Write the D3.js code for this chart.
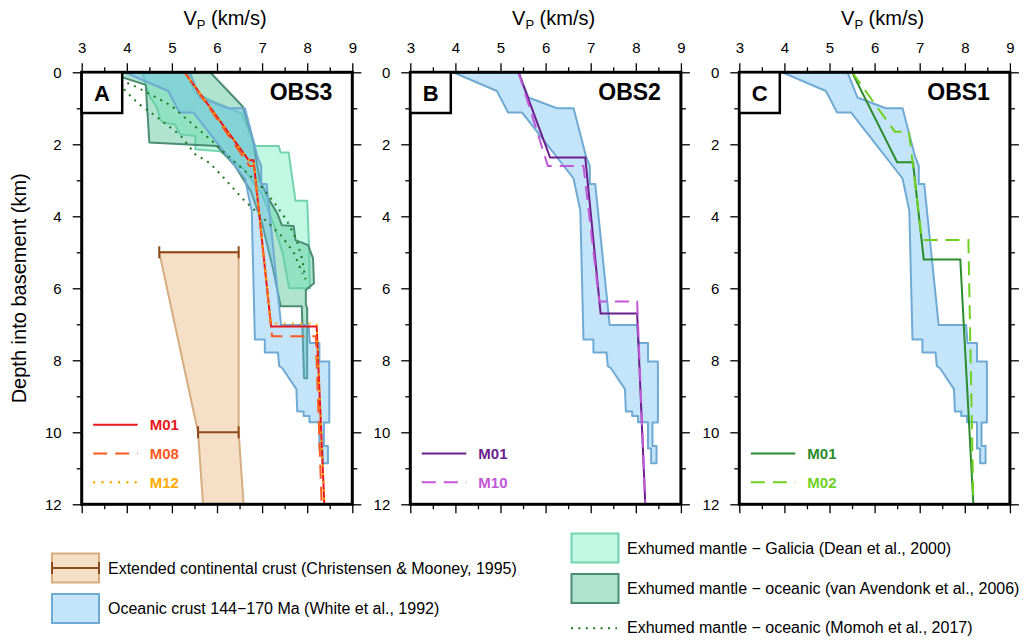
<!DOCTYPE html>
<meta charset="utf-8">
<style>
body { margin: 0; background: #fff; }
svg text { font-family: "Liberation Sans", Arial, sans-serif; fill: #000; }
.frame { fill: none; stroke: #000; stroke-width: 3px; }
.axis path { display: none; }
.axis line { stroke: #000; stroke-width: 1.3px; }
.band { stroke-width: 2px; stroke-linejoin: round; }
.model { fill: none; stroke-width: 2px; }
</style>
<body>
<script src="https://d3js.org/d3.v7.min.js"></script>
<script>
// axis ticks
var vTicks = [3, 4, 5, 6, 7, 8, 9];
var vMinor = [3.5, 4.5, 5.5, 6.5, 7.5, 8.5];
var depthTicks = [0, 2, 4, 6, 8, 10, 12];
var depthMinor = [1, 3, 5, 7, 9, 11];

// reference bands, [Vp km/s, depth km]
var oceanicCrust = [[3.95,0],[5.40,0],[5.62,0.70],[6.25,1.0],[6.62,1.0],[6.90,2.35],[6.98,2.6],[6.98,3.1],[7.10,3.1],
  [7.42,7.02],[8.03,7.02],[8.06,7.52],[8.27,7.52],[8.27,8.03],[8.49,8.03],[8.49,9.73],[8.37,9.73],[8.37,10.38],
  [8.46,10.38],[8.46,10.86],[8.34,10.86],[8.34,10.45],[8.27,10.45],[8.27,9.72],[8.05,9.72],[8.05,9.55],[7.92,9.55],
  [7.92,9.42],[7.78,9.42],[7.76,8.8],[7.45,8.22],[7.38,8.16],[7.35,7.78],[7.06,7.78],[7.06,7.42],[6.84,7.42],
  [6.77,3.85],[6.62,2.95],[5.48,1.12],[5.17,1.12],[4.92,0.52]];
var galicia = [[4.35,0],[5.35,0],[5.5,0.55],[5.9,0.8],[6.55,1.15],[6.85,2.05],[7.37,2.05],[7.41,2.23],[7.59,2.23],
  [7.74,3.57],[8.0,3.57],[8.04,4.8],[8.06,6.0],[7.6,6.0],[7.45,5.0],[7.25,4.2],[7.0,3.4],[6.6,2.7],[6.07,2.19],
  [5.52,2.14],[5.52,1.77],[5.18,1.72],[5.07,1.45],[4.81,1.40],[4.74,1.31],[4.67,0.98],[4.52,0.70],[4.41,0.33]];
var vanAvendonk = [[3.56,0],[5.85,0],[6.57,0.95],[6.8,1.9],[6.95,3.0],[7.15,3.53],[7.33,3.9],[7.44,4.25],[7.70,4.27],
  [7.74,4.66],[8.02,4.8],[8.13,5.17],[8.15,5.86],[7.97,6.05],[7.97,6.45],[8.0,6.56],[8.0,8.5],[7.93,8.5],[7.88,6.5],
  [7.41,6.5],[7.25,5.5],[7.0,4.2],[6.75,3.3],[6.4,2.6],[6.0,2.05],[4.50,1.95],[4.42,0.35]];
var momohUpper = [[3.55,0.08],[3.8,0.18],[4.2,0.4],[4.6,0.66],[5.0,0.94],[5.5,1.49],[5.85,1.86],[6.33,2.42],[6.7,2.83],
  [7.0,3.2],[7.3,3.67],[7.55,4.12],[7.76,4.64],[7.89,5.19],[7.96,5.75]];
var momohLower = [[3.55,0.1],[3.78,0.26],[3.96,0.5],[4.1,0.68],[4.28,0.89],[4.63,1.21],[5.18,1.74],[5.52,2.28],[5.85,2.53],
  [6.2,3.0],[6.61,3.57],[7.11,4.15],[7.43,4.55],[7.7,5.0],[7.9,5.6]];
var contCrust = [[4.72,5],[6.48,5],[6.48,10],[6.59,12],[5.69,12],[5.58,10]];
var contBars = [[5, 4.72, 6.48], [10, 5.58, 6.48]];

// OBS models
var obs3M01 = [[5.28,0],[6.70,2.44],[6.81,2.44],[7.2,7.06],[8.21,7.06],[8.38,12]];
var obs3M08 = [[5.28,0],[6.72,2.6],[6.82,2.6],[7.22,7.33],[8.19,7.33],[8.32,12]];
var obs3M12 = [[5.28,0],[6.70,2.44],[6.81,2.44],[7.2,6.98],[8.21,6.98],[8.38,12]];
var obs2M01 = [[5.40,0],[6.10,2.37],[6.88,2.37],[7.22,6.70],[8.03,6.70],[8.21,12]];
var obs2M10 = [[5.40,0],[6.05,2.6],[6.84,2.6],[7.19,6.37],[8.03,6.37],[8.21,12]];
var obs1M01 = [[5.50,0],[6.50,2.5],[6.85,2.5],[7.09,5.2],[7.90,5.2],[8.19,12]];
var obs1M02 = [[5.50,0],[6.45,1.65],[6.76,1.65],[7.05,4.66],[8.08,4.66],[8.19,12]];

var panels = [
  {id: "A", title: "OBS3", left: 81.7, models: [
    {name: "M01", data: obs3M01, color: "#e8161b", dash: null},
    {name: "M08", data: obs3M08, color: "#ff5a1f", dash: "14,8"},
    {name: "M12", data: obs3M12, color: "#ffaa00", dash: "2,6.3"}]},
  {id: "B", title: "OBS2", left: 410.3, models: [
    {name: "M01", data: obs2M01, color: "#6a1f8c", dash: null},
    {name: "M10", data: obs2M10, color: "#c257d8", dash: "14,8"}]},
  {id: "C", title: "OBS1", left: 739.3, models: [
    {name: "M01", data: obs1M01, color: "#2a8c2a", dash: null},
    {name: "M02", data: obs1M02, color: "#6fd11f", dash: "14,8"}]}
];

// fills: colour + opacity so overlaps darken like the original
var blueFill = "#6bbbf2", blueOpacity = 0.4, blueStroke = "#6eaad3";
var galiciaFill = "#c0f8e4", galiciaStroke = "#72d3ae";
var avendonkFill = "#61c9a1", avendonkOpacity = 0.5, avendonkStroke = "#4a8d72";

var top0 = 72.3, panelW = 270.6, panelH = 432;

var svg = d3.select("body").append("svg")
    .attr("width", 1031)
    .attr("height", 643);

var x = d3.scaleLinear().domain([3, 9]).range([0, panelW]);
var y = d3.scaleLinear().domain([0, 12]).range([0, panelH]);
var line = d3.line().x(function(d) { return x(d[0]); }).y(function(d) { return y(d[1]); });
var area = function(d) { return line(d) + "Z"; };

function styleAxis(sel) {
  sel.selectAll("text").style("font-size", "15px").style("font-family", "'Liberation Sans', Arial, sans-serif");
}

panels.forEach(function(p, i) {
  var g = svg.append("g").attr("transform", "translate(" + p.left + "," + top0 + ")");
  g.append("clipPath").attr("id", "clip" + i)
    .append("rect").attr("width", panelW).attr("height", panelH);
  var plot = g.append("g").attr("clip-path", "url(#clip" + i + ")");

  if (p.id == "A") {
    plot.append("path").attr("class", "band").attr("d", area(galicia))
      .attr("fill", galiciaFill).attr("stroke", galiciaStroke);
    plot.append("path").attr("class", "band").attr("d", area(vanAvendonk))
      .attr("fill", avendonkFill).attr("fill-opacity", avendonkOpacity).attr("stroke", avendonkStroke);
  }
  plot.append("path").attr("class", "band").attr("d", area(oceanicCrust))
    .attr("fill", blueFill).attr("fill-opacity", blueOpacity).attr("stroke", blueStroke);

  if (p.id == "A") {
    plot.append("path").attr("d", area(contCrust))
      .attr("fill", "#f5dfc6").attr("stroke", "#d6ad80").attr("stroke-width", 2);
    contBars.forEach(function(b) {
      plot.append("line").attr("x1", x(b[1])).attr("x2", x(b[2])).attr("y1", y(b[0])).attr("y2", y(b[0]))
        .attr("stroke", "#8f4a1c").attr("stroke-width", 2);
      [b[1], b[2]].forEach(function(v) {
        plot.append("line").attr("x1", x(v)).attr("x2", x(v)).attr("y1", y(b[0]) - 6).attr("y2", y(b[0]) + 6)
          .attr("stroke", "#8f4a1c").attr("stroke-width", 2);
      });
    });
    [momohUpper, momohLower].forEach(function(m) {
      plot.append("path").attr("class", "model").attr("d", line(m))
        .attr("stroke", "#1e781e").attr("stroke-width", 2).attr("stroke-dasharray", "2,5.4");
    });
  }

  p.models.forEach(function(m) {
    plot.append("path").attr("class", "model").attr("d", line(m.data))
      .attr("stroke", m.color)
      .attr("stroke-width", m.dash == "2,6.3" ? 2.5 : 2)
      .attr("stroke-dasharray", m.dash);
  });

  // axes
  g.append("g").attr("class", "axis")
    .call(d3.axisTop(x).tickValues(vTicks).tickSize(9).tickPadding(10.5).tickFormat(d3.format("d")))
    .call(styleAxis);
  g.append("g").attr("class", "axis")
    .call(d3.axisTop(x).tickValues(vMinor).tickSize(5).tickFormat(""));
  g.append("g").attr("class", "axis").attr("transform", "translate(0," + panelH + ")")
    .call(d3.axisBottom(x).tickValues(vTicks).tickSize(9).tickFormat(""));
  g.append("g").attr("class", "axis").attr("transform", "translate(0," + panelH + ")")
    .call(d3.axisBottom(x).tickValues(vMinor).tickSize(5).tickFormat(""));
  g.append("g").attr("class", "axis")
    .call(d3.axisLeft(y).tickValues(depthTicks).tickSize(9).tickPadding(11))
    .call(styleAxis);
  g.append("g").attr("class", "axis")
    .call(d3.axisLeft(y).tickValues(depthMinor).tickSize(5).tickFormat(""));
  g.append("g").attr("class", "axis").attr("transform", "translate(" + panelW + ",0)")
    .call(d3.axisRight(y).tickValues(depthTicks).tickSize(9).tickFormat(""));
  g.append("g").attr("class", "axis").attr("transform", "translate(" + panelW + ",0)")
    .call(d3.axisRight(y).tickValues(depthMinor).tickSize(5).tickFormat(""));

  g.append("rect").attr("class", "frame").attr("width", panelW).attr("height", panelH);

  // panel letter + station
  g.append("rect").attr("width", 40.5).attr("height", 40.7)
    .attr("fill", "#fff").attr("stroke", "#000").attr("stroke-width", 2.5);
  g.append("text").attr("x", 20.3).attr("y", 29).attr("text-anchor", "middle")
    .style("font-size", "22px").style("font-weight", "bold").text(p.id);
  g.append("text").attr("x", panelW - 20).attr("y", 27.7).attr("text-anchor", "end")
    .style("font-size", "23px").style("font-weight", "bold").text(p.title);

  // Vp label
  var t = g.append("text").attr("x", panelW / 2 + 8).attr("y", -47.5).attr("text-anchor", "middle")
    .style("font-size", "20px");
  t.append("tspan").text("V");
  t.append("tspan").attr("dy", 4).style("font-size", "13px").text("P");
  t.append("tspan").attr("dy", -4).text(" (km/s)");

  // model legend
  var n = p.models.length;
  p.models.forEach(function(m, k) {
    var ly = 482.3 - top0 - (n - 1 - k) * 28.8;
    g.append("line").attr("x1", 11.5).attr("x2", 56).attr("y1", ly).attr("y2", ly)
      .attr("stroke", m.color).attr("stroke-width", m.dash == "2,6.3" ? 2.5 : 2)
      .attr("stroke-dasharray", m.dash);
    g.append("text").attr("x", 68).attr("y", ly).attr("dy", "0.36em")
      .style("font-size", "15px").style("font-weight", "bold").style("fill", m.color).text(m.name);
  });
});

// y title
svg.append("text")
  .attr("transform", "translate(26,288.3) rotate(-90)")
  .attr("text-anchor", "middle")
  .style("font-size", "20px")
  .text("Depth into basement (km)");

// bottom legend
var leg = svg.append("g");
function swatch(x0, y0, fill, opacity, stroke) {
  leg.append("rect").attr("x", x0).attr("y", y0).attr("width", 47).attr("height", 29)
    .attr("fill", fill).attr("fill-opacity", opacity).attr("stroke", stroke).attr("stroke-width", 2);
}
function label(x0, yc, txt) {
  leg.append("text").attr("x", x0).attr("y", yc).attr("dy", "0.35em").style("font-size", "16px").text(txt);
}
swatch(52, 553.5, "#f5dfc6", 1, "#d6ad80");
leg.append("line").attr("x1", 52).attr("x2", 99).attr("y1", 568).attr("y2", 568).attr("stroke", "#8f4a1c").attr("stroke-width", 2);
[52, 99].forEach(function(v) {
  leg.append("line").attr("x1", v).attr("x2", v).attr("y1", 562).attr("y2", 574).attr("stroke", "#8f4a1c").attr("stroke-width", 2);
});
label(108, 568, "Extended continental crust (Christensen & Mooney, 1995)");
swatch(52, 594, blueFill, blueOpacity, blueStroke);
label(108, 608.5, "Oceanic crust 144\u2212170 Ma (White et al., 1992)");

swatch(571.5, 533.5, galiciaFill, 1, galiciaStroke);
label(627, 548, "Exhumed mantle \u2212 Galicia (Dean et al., 2000)");
swatch(571.5, 574, avendonkFill, avendonkOpacity, avendonkStroke);
label(627, 588.5, "Exhumed mantle \u2212 oceanic (van Avendonk et al., 2006)");
leg.append("line").attr("x1", 571).attr("x2", 617).attr("y1", 628.3).attr("y2", 628.3)
  .attr("stroke", "#1e781e").attr("stroke-width", 2).attr("stroke-dasharray", "2,5.4");
label(627, 627.5, "Exhumed mantle \u2212 oceanic (Momoh et al., 2017)");
</script>
</body>
